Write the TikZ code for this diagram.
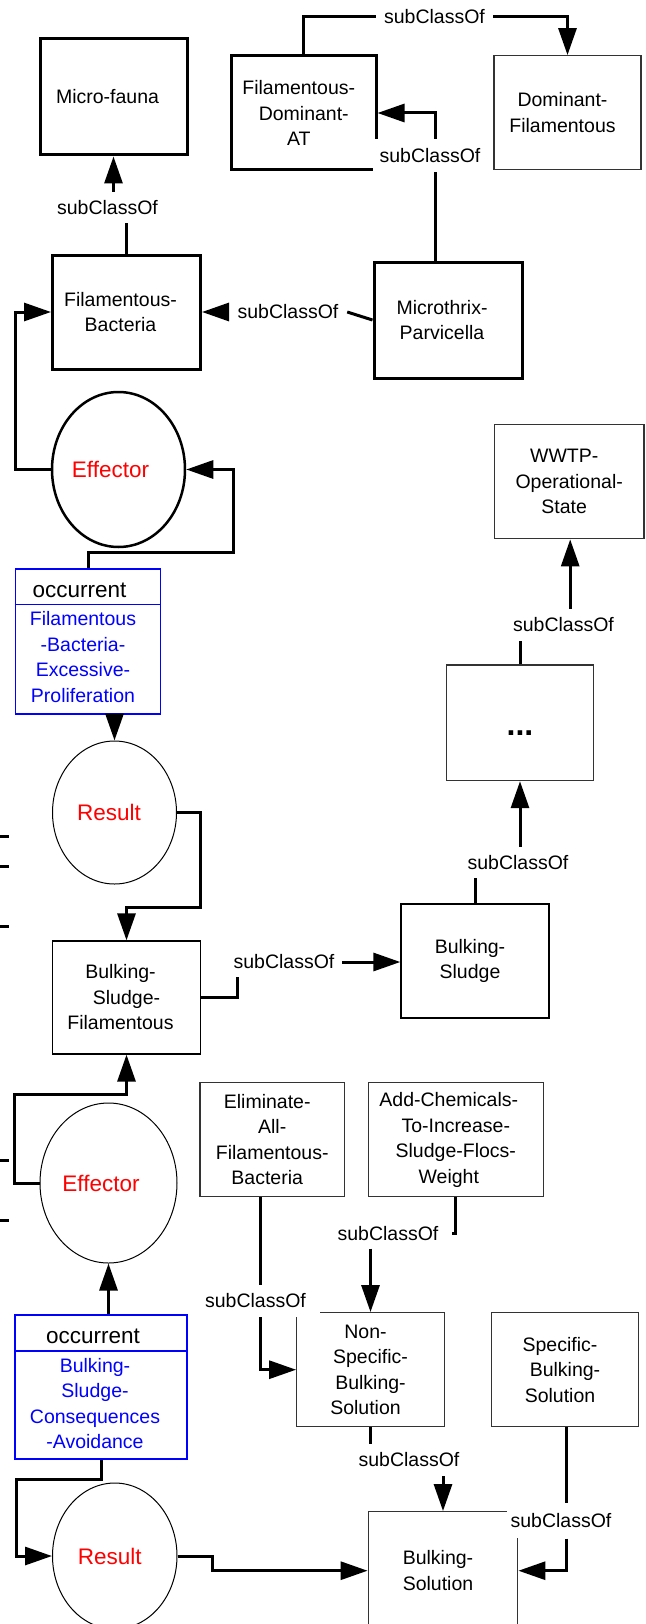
\documentclass[tikz,border=0pt]{standalone}
\usepackage{fontspec}
\setmainfont{Liberation Sans}
\usetikzlibrary{shapes.geometric,arrows.meta,calc}
\newcommand{\rs}{\hspace*{10pt}}
\begin{document}
\begin{tikzpicture}[x=1pt,y=-1pt,
  every node/.style={font=\fontsize{19.5}{25.5}\selectfont, align=center, inner sep=0pt},
  thickbox/.style={rectangle, draw=black, line width=3pt},
  thinbox/.style={rectangle, draw=black!80, line width=1.3pt},
  occbox/.style={rectangle, draw=blue, line width=1.3pt},
  occline/.style={draw=blue, line width=1.3pt},
  ellthick/.style={ellipse, draw=black, line width=2.5pt, text=red, font=\fontsize{22.5}{27}\selectfont},
  ellthin/.style={ellipse, draw=black, line width=1pt, text=red, font=\fontsize{22.5}{27}\selectfont},
  headtxt/.style={font=\fontsize{22.5}{27}\selectfont, anchor=base},
  bluetxt/.style={text=blue},
  lbl/.style={fill=white, inner xsep=3pt, minimum height=30pt},
  conn/.style={line width=3pt},
  arr/.style={conn, -{Triangle[length=27pt,width=18pt]}}
]
\useasboundingbox (0,0) rectangle (645,1624);

% class boxes
\node[thickbox, minimum width=147pt, minimum height=116pt] (mf) at (113.5,97) {Micro-fauna\hspace*{12pt}};
\node[thickbox, minimum width=144.5pt, minimum height=114pt] (fdat) at (303.75,113) {Filamentous-\rs\\Dominant-\rs\\AT\rs};
\node[thinbox, minimum width=147pt, minimum height=113.5pt] (df) at (567.5,112.5) {Dominant-\rs\\Filamentous\rs};
\node[thickbox, minimum width=148pt, minimum height=114pt] (fb) at (126.5,312) {Filamentous-\hspace*{12pt}\\Bacteria\hspace*{12pt}};
\node[thickbox, minimum width=148pt, minimum height=116pt] (mp) at (448,320) {Microthrix-\hspace*{12pt}\\Parvicella\hspace*{12pt}};
\node[thinbox, minimum width=149.5pt, minimum height=114.5pt] (wwtp) at (569.2,481.5) {WWTP-\rs\\Operational-\rs\\State\rs};
\node[thinbox, minimum width=146.5pt, minimum height=115.5pt, font=\fontsize{32}{32}\selectfont\bfseries, text height=25pt, text depth=0pt] (dots) at (520,722.8) {...};
\node[thinbox, draw=black, minimum width=148pt, minimum height=113pt] (bsf) at (126.5,997.5) {Bulking-\hspace*{12pt}\\Sludge-\hspace*{12pt}\\Filamentous\hspace*{12pt}};
\node[thinbox, draw=black, minimum width=148pt, minimum height=114pt] (bs) at (475,961) {Bulking-\rs\\Sludge\rs};
\node[thinbox, minimum width=144.5pt, minimum height=114pt] (elim) at (272.2,1139.7) {Eliminate-\rs\\All-\rs\\Filamentous-\rs\\Bacteria\rs};
\node[thinbox, minimum width=175pt, minimum height=114pt] (addc) at (455.8,1139.7) {Add-Chemicals-\hspace*{14pt}\\To-Increase-\hspace*{14pt}\\Sludge-Flocs-\hspace*{14pt}\\Weight\hspace*{14pt}};
\node[thinbox, minimum width=147.5pt, minimum height=114pt] (nsbs) at (370.5,1369.7) {Non-\rs\\Specific-\rs\\Bulking-\rs\\Solution\rs};
\node[thinbox, minimum width=146.5pt, minimum height=114pt] (spec) at (565,1369.7) {Specific-\rs\\Bulking-\rs\\Solution\rs};
\node[thinbox, minimum width=149.5pt, minimum height=118pt] (bsol) at (443,1570.7) {Bulking-\rs\\Solution\rs};

% ellipses
\node[ellthick, minimum width=133pt, minimum height=155pt] (eff1) at (118.5,469.5) {Effector\hspace*{16pt}};
\node[ellthin, minimum width=124pt, minimum height=143pt] (res1) at (114.5,812.5) {Result\hspace*{11pt}};
\node[ellthin, minimum width=137pt, minimum height=160pt] (eff2) at (108.5,1183) {Effector\hspace*{15pt}};
\node[ellthin, minimum width=124.5pt, minimum height=146pt] (res2) at (114.75,1556) {Result\hspace*{10pt}};

% occurrent boxes
\node[occbox, minimum width=145pt, minimum height=145pt] (occ1) at (88,641.5) {};
\draw[occline] (occ1.west |- 0,604.5) -- (occ1.east |- 0,604.5);
\node[headtxt] (occ1h) at (79.5,597.5) {occurrent};
\node[bluetxt] (occ1b) at (83,657) {Filamentous\\-Bacteria-\\Excessive-\\Proliferation};

\node[occbox, minimum width=172pt, minimum height=144pt] (occ2) at (101,1387) {};
\draw[occline] (occ2.west |- 0,1351) -- (occ2.east |- 0,1351);
\node[headtxt] (occ2h) at (93,1343) {occurrent};
\node[bluetxt] (occ2b) at (95,1403.5) {Bulking-\\Sludge-\\Consequences\\-Avoidance};

% labels
\node[lbl, minimum width=117pt] (l1) at (434.5,16.5) {subClassOf};
\node[lbl, minimum width=114pt, minimum height=33pt] (l2) at (430,155.5) {subClassOf};
\node[lbl, minimum height=31pt] (l3) at (107.5,207.5) {subClassOf};
\node[lbl, minimum width=118pt] (l4) at (288,312) {subClassOf};
\node[lbl, minimum width=116pt, minimum height=30pt] (l9) at (284,962) {subClassOf};
\node[lbl, minimum height=31pt] (l10) at (518,862.5) {subClassOf};
\node[lbl, minimum height=32pt] (l11) at (563.5,625) {subClassOf};
\node[lbl, minimum width=129pt, minimum height=31.7pt] (l16) at (255.5,1301) {subClassOf};
\node[lbl, minimum width=128pt, minimum height=30pt] (l17) at (388,1233.5) {subClassOf};
\node[lbl, minimum height=32pt] (l18) at (409,1460) {subClassOf};
\node[lbl, minimum width=108pt, minimum height=35pt] (l19) at (561,1520.8) {subClassOf};

% connectors
\draw[conn] (fdat.north) |- (l1.west);
\draw[arr] (l1.east) -| (df.north);

\coordinate (m2) at ([xshift=-13pt]mp.north);
\draw[conn] (m2) -- (m2 |- l2.south);
\draw[arr] (m2 |- l2.north) |- (fdat.east);

\draw[conn] (fb.north) -- (fb.north |- l3.south);
\draw[arr] (mf.south |- l3.north) -- (mf.south);

\draw[conn] (mp.west) -- (l4.east);
\draw[arr] (l4.west) -- (fb.east);

\draw[arr] (eff1.west) -- ++(-35.5,0) |- (fb.west);
\draw[arr] (occ1.north) -- ++(0,-16) -| ([xshift=47pt]eff1.east) -- (eff1.east);
\draw[arr] (res1.north |- occ1.south) -- (res1.north);
\draw[arr] (res1.east) -| ++(23.5,94.5) -| (bsf.north);

\coordinate (m9) at ([xshift=-47pt]l9.south);
\draw[conn] (bsf.east) -| (m9);
\draw[arr] (l9.east) -- (l9.east -| bs.west);

\draw[conn] (bs.north) -- (bs.north |- l10.south);
\draw[arr] (dots.south |- l10.north) -- (dots.south);

\draw[conn] (dots.north) -- (dots.north |- l11.south);
\coordinate (m11) at ([xshift=1pt]wwtp.south);
\draw[arr] (m11 |- l11.north) -- (m11);

\draw[arr] (eff2.west) -- ++(-25.5,0) |- ($(bsf.south)+(0,40)$) -- (bsf.south);
\draw[arr] (eff2.south |- occ2.north) -- (eff2.south);
\draw[arr] (occ2.south) -- ++(0,20) -| ([xshift=-35.5pt]res2.west) -- (res2.west);
\draw[arr] (res2.east) -| ([xshift=-155pt]bsol.west) -- (bsol.west);

\coordinate (m16) at ([xshift=-12pt]elim.south);
\draw[conn] (m16) -- (m16 |- l16.north);
\draw[arr] (m16 |- l16.south) |- (nsbs.west);

\draw[conn] (addc.south) |- (l17.east);
\draw[arr] (nsbs.north |- l17.south) -- (nsbs.north);

\draw[conn] (nsbs.south) -- (nsbs.south |- l18.north);
\draw[arr] (bsol.north |- l18.south) -- (bsol.north);

\coordinate (m19) at ([xshift=1.7pt]spec.south);
\draw[conn] (m19) -- (m19 |- l19.north);
\draw[arr] (m19 |- l19.south) |- (bsol.east);

% stray line ends at the left border
\draw[conn] (0,836) -- (9,836);
\draw[conn] (0,866) -- (9,866);
\draw[conn] (0,926) -- (9,926);
\draw[conn] (0,1160) -- (9,1160);
\draw[conn] (0,1220) -- (9,1220);
\end{tikzpicture}
\end{document}
